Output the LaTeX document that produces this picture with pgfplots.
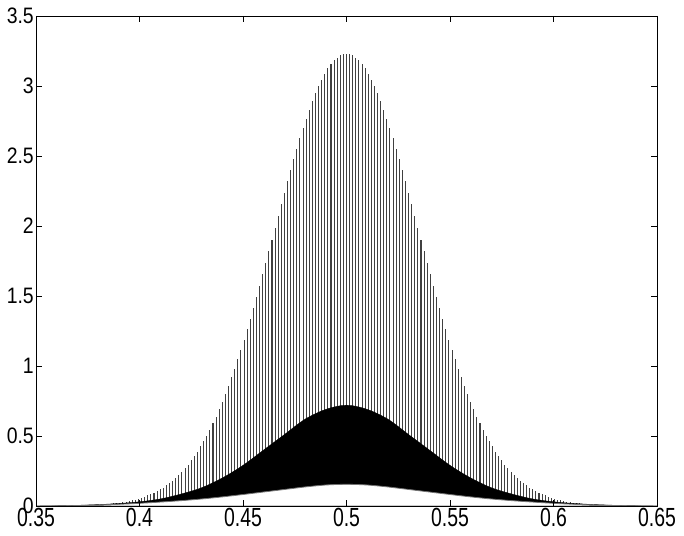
\documentclass[border=0pt]{standalone}
\usepackage{pgfplots}
\pgfplotsset{compat=1.18}
\usepackage{pgfplotstable}
\usepackage{graphicx}
\usepackage{fontspec}
\setmainfont{Liberation Sans}

\pgfplotstableread{
x y
0.3800 0.009
0.3815 0.010
0.3830 0.012
0.3845 0.014
0.3860 0.016
0.3875 0.018
0.3890 0.021
0.3905 0.024
0.3920 0.028
0.3935 0.032
0.3950 0.036
0.3965 0.041
0.3980 0.046
0.3995 0.052
0.4010 0.059
0.4025 0.067
0.4040 0.075
0.4055 0.084
0.4070 0.095
0.4085 0.106
0.4100 0.118
0.4115 0.132
0.4130 0.147
0.4145 0.163
0.4160 0.181
0.4175 0.201
0.4190 0.222
0.4205 0.245
0.4220 0.270
0.4235 0.296
0.4250 0.325
0.4265 0.356
0.4280 0.389
0.4295 0.425
0.4310 0.463
0.4325 0.503
0.4340 0.546
0.4355 0.591
0.4370 0.639
0.4385 0.690
0.4400 0.743
0.4415 0.799
0.4430 0.858
0.4445 0.919
0.4460 0.982
0.4475 1.049
0.4490 1.117
0.4505 1.188
0.4520 1.261
0.4535 1.336
0.4550 1.413
0.4565 1.492
0.4580 1.572
0.4595 1.654
0.4610 1.736
0.4625 1.819
0.4640 1.903
0.4655 1.987
0.4670 2.071
0.4685 2.154
0.4700 2.237
0.4715 2.319
0.4730 2.399
0.4745 2.477
0.4760 2.553
0.4775 2.627
0.4790 2.698
0.4805 2.766
0.4820 2.830
0.4835 2.890
0.4850 2.947
0.4865 2.998
0.4880 3.046
0.4895 3.088
0.4910 3.125
0.4925 3.157
0.4940 3.183
0.4955 3.203
0.4970 3.218
0.4985 3.227
0.5000 3.230
0.5015 3.227
0.5030 3.218
0.5045 3.203
0.5060 3.183
0.5075 3.157
0.5090 3.125
0.5105 3.088
0.5120 3.046
0.5135 2.998
0.5150 2.947
0.5165 2.890
0.5180 2.830
0.5195 2.766
0.5210 2.698
0.5225 2.627
0.5240 2.553
0.5255 2.477
0.5270 2.399
0.5285 2.319
0.5300 2.237
0.5315 2.154
0.5330 2.071
0.5345 1.987
0.5360 1.903
0.5375 1.819
0.5390 1.736
0.5405 1.654
0.5420 1.572
0.5435 1.492
0.5450 1.413
0.5465 1.336
0.5480 1.261
0.5495 1.188
0.5510 1.117
0.5525 1.049
0.5540 0.982
0.5555 0.919
0.5570 0.858
0.5585 0.799
0.5600 0.743
0.5615 0.690
0.5630 0.639
0.5645 0.591
0.5660 0.546
0.5675 0.503
0.5690 0.463
0.5705 0.425
0.5720 0.389
0.5735 0.356
0.5750 0.325
0.5765 0.296
0.5780 0.270
0.5795 0.245
0.5810 0.222
0.5825 0.201
0.5840 0.181
0.5855 0.163
0.5870 0.147
0.5885 0.132
0.5900 0.118
0.5915 0.106
0.5930 0.095
0.5945 0.084
0.5960 0.075
0.5975 0.067
0.5990 0.059
0.6005 0.052
0.6020 0.046
0.6035 0.041
0.6050 0.036
0.6065 0.032
0.6080 0.028
0.6095 0.024
0.6110 0.021
0.6125 0.018
0.6140 0.016
0.6155 0.014
0.6170 0.012
0.6185 0.010
0.6200 0.009
}\peakdata

\pgfplotstableread{
x y
0.35 0.000
0.36 0.002
0.37 0.005
0.38 0.010
0.39 0.018
0.40 0.030
0.41 0.050
0.42 0.085
0.43 0.130
0.44 0.200
0.45 0.290
0.46 0.400
0.47 0.510
0.48 0.620
0.49 0.690
0.50 0.720
0.51 0.690
0.52 0.620
0.53 0.510
0.54 0.400
0.55 0.290
0.56 0.200
0.57 0.130
0.58 0.085
0.59 0.050
0.60 0.030
0.61 0.018
0.62 0.010
0.63 0.005
0.64 0.002
0.65 0.000
}\middata

\pgfplotstableread{
x y
0.35 0.000
0.36 0.001
0.37 0.003
0.38 0.007
0.39 0.012
0.40 0.019
0.41 0.028
0.42 0.038
0.43 0.050
0.44 0.065
0.45 0.082
0.46 0.100
0.47 0.118
0.48 0.136
0.49 0.150
0.50 0.155
0.51 0.150
0.52 0.136
0.53 0.118
0.54 0.100
0.55 0.082
0.56 0.065
0.57 0.050
0.58 0.038
0.59 0.028
0.60 0.019
0.61 0.012
0.62 0.007
0.63 0.003
0.64 0.001
0.65 0.000
}\lowdata

\newcommand{\xl}[1]{\scalebox{1}[1.35]{#1}}
\newcommand{\yl}[1]{\scalebox{1}[1.15]{#1}}

\begin{document}
\begin{tikzpicture}
\path[use as bounding box] (-36bp,-30bp) rectangle (648bp,506bp);
\begin{axis}[
  at={(0,0)}, anchor=south west,
  scale only axis,
  width=621bp, height=490bp,
  xmin=0.35, xmax=0.65, ymin=0, ymax=3.5,
  xtick={0.35,0.4,...,0.651},
  xticklabels={\xl{0.35},\xl{0.4},\xl{0.45},\xl{0.5},\xl{0.55},\xl{0.6},\xl{0.65}},
  ytick={0,0.5,...,3.51},
  yticklabels={\yl{0},\yl{0.5},\yl{1},\yl{1.5},\yl{2},\yl{2.5},\yl{3},\yl{3.5}},
  tick align=inside,
  major tick length=6bp,
  tick style={black, line width=0.5bp},
  axis line style={black, line width=0.6bp},
  axis on top,
  ticklabel style={font=\fontsize{19.5}{22}\selectfont},
  yticklabel style={inner xsep=2bp},
  xticklabel style={inner ysep=1.5bp},
]
\addplot[ycomb, black!75, line width=1.05bp, mark=none] table {\peakdata};
\addplot[fill=black, draw=black, line width=0.4bp, smooth] table {\middata} \closedcycle;
\addplot[fill=white, draw=black!55, line width=0.8bp, smooth] table {\lowdata} \closedcycle;
\end{axis}
\end{tikzpicture}
\end{document}
